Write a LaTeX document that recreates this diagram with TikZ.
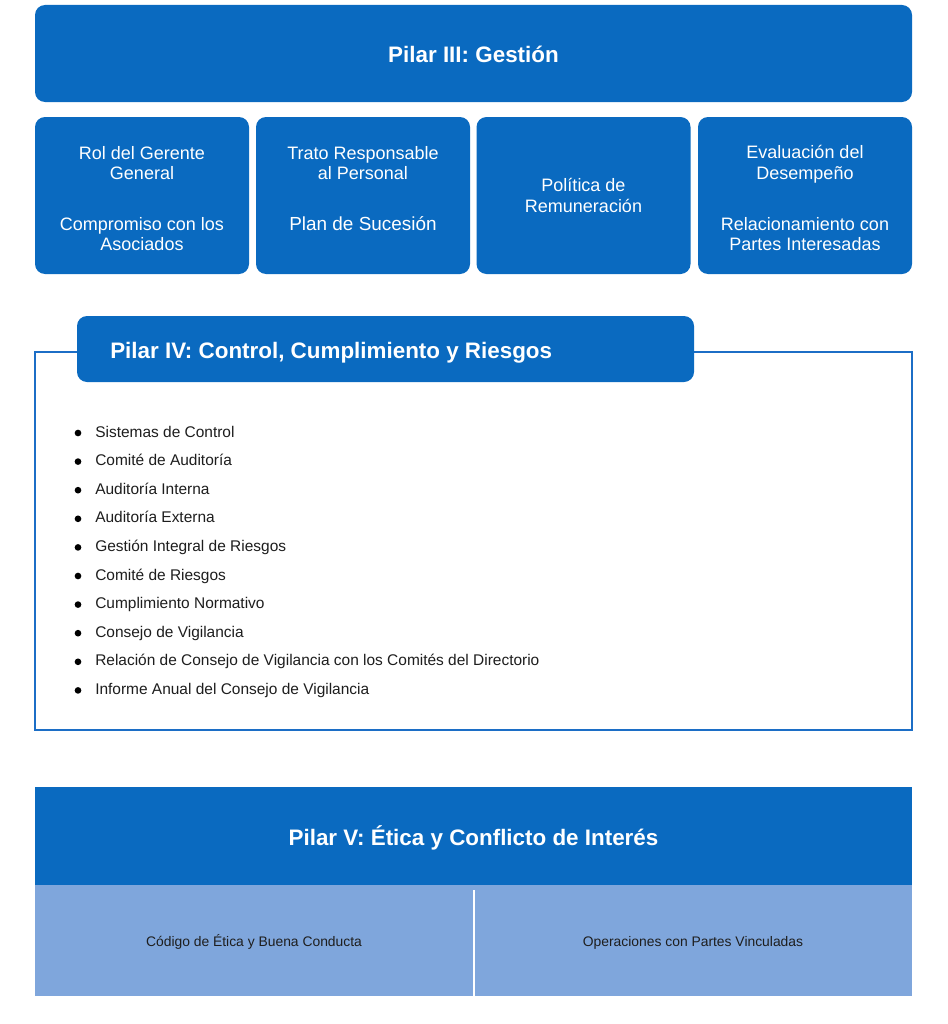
\documentclass[tikz,border=0pt]{standalone}
\usepackage{fontspec}
\setmainfont{Liberation Sans}
\definecolor{pblue}{RGB}{10,106,192}
\definecolor{plight}{RGB}{127,166,220}
\definecolor{pframe}{RGB}{28,110,198}
\definecolor{ptext}{RGB}{30,30,30}
\begin{document}
\begin{tikzpicture}[x=0.75pt,y=-0.75pt,
  bluebox/.style={fill=pblue,draw=none,rounded corners=7.5pt,inner sep=0pt},
  boxtxt/.style={text=white,font=\fontsize{13.5}{15.5}\selectfont,align=center,inner sep=0pt},
  titletxt/.style={text=white,font=\fontsize{16.8}{19}\selectfont\bfseries,inner sep=0pt,text height=12pt,text depth=3.5pt},
  itemtxt/.style={text=ptext,font=\fontsize{11.6}{13}\selectfont,anchor=west,inner sep=0pt,text height=8.4pt,text depth=2.4pt},
  bulletdot/.style={circle,fill=black,inner sep=0pt,minimum size=5pt},
  lowtxt/.style={text=ptext,font=\fontsize{10.4}{12}\selectfont,inner sep=0pt,text height=7.6pt,text depth=2.2pt}]
\useasboundingbox (0,0) rectangle (947,1024);
\fill[white] (0,0) rectangle (947,1024);

% Pilar III
\node[bluebox,minimum width=657.75pt,minimum height=72.75pt] (p3) at (473.5,53.5) {};
\node[titletxt] (p3t) at (473.5,57) {Pilar III: Gestión};

\node[bluebox,minimum width=160.5pt,minimum height=117.75pt] (b1) at (142,195.5) {};
\node[bluebox,minimum width=160.5pt,minimum height=117.75pt] (b2) at (363,195.5) {};
\node[bluebox,minimum width=160.5pt,minimum height=117.75pt] (b3) at (583.5,195.5) {};
\node[bluebox,minimum width=160.5pt,minimum height=117.75pt] (b4) at (805,195.5) {};

\node[boxtxt] (b1a) at (142,163) {Rol del Gerente\\General};
\node[boxtxt] (b1b) at (142,234) {Compromiso con los\\Asociados};
\node[boxtxt] (b2a) at (363,163) {Trato Responsable\\al Personal};
\node[boxtxt,font=\fontsize{14.2}{16}\selectfont] (b2b) at (363,224) {Plan de Sucesión};
\node[boxtxt] (b3a) at (583.5,195.5) {Política de\\Remuneración};
\node[boxtxt] (b4a) at (805,164) {Evaluación del\\Desempeño};
\node[boxtxt] (b4b) at (805,234) {Relacionamiento con\\Partes Interesadas};

% Pilar IV
\node[draw=pframe,line width=1.1pt,minimum width=657.75pt,minimum height=283.5pt,inner sep=0pt] (p4frame) at (473.5,541) {};
\node[bluebox,minimum width=462.75pt,minimum height=49.5pt] (p4) at (385.5,349) {};
\node[titletxt,anchor=west] (p4t) at (110,353) {Pilar IV: Control, Cumplimiento y Riesgos};

\foreach \i/\yy/\t in {1/433/Sistemas de Control,
  2/461.6/Comité de Auditoría,
  3/490.2/Auditoría Interna,
  4/518.8/Auditoría Externa,
  5/547.4/Gestión Integral de Riesgos,
  6/576/Comité de Riesgos,
  7/604.6/Cumplimiento Normativo,
  8/633.2/Consejo de Vigilancia,
  9/661.8/Relación de Consejo de Vigilancia con los Comités del Directorio,
  10/690.4/Informe Anual del Consejo de Vigilancia}{
  \node[bulletdot] (d\i) at (78,\yy) {};
  \node[itemtxt] (it\i) at (95,\yy) {\t};
}

% Pilar V
\node[fill=pblue,minimum width=657.75pt,minimum height=73.5pt,inner sep=0pt] (p5) at (473.5,836) {};
\node[titletxt] (p5t) at (473.5,840) {Pilar V: Ética y Conflicto de Interés};
\node[fill=plight,minimum width=657.75pt,minimum height=83.25pt,inner sep=0pt] (p5low) at (473.5,940.5) {};
\coordinate (dtop) at (474,890);
\coordinate (dbot) at (474,996);
\draw[white,line width=0.8pt] (dtop) -- (dbot);
\node[lowtxt] (c1) at (254,943) {Código de Ética y Buena Conducta};
\node[lowtxt] (c2) at (693,943) {Operaciones con Partes Vinculadas};
\end{tikzpicture}
\end{document}
